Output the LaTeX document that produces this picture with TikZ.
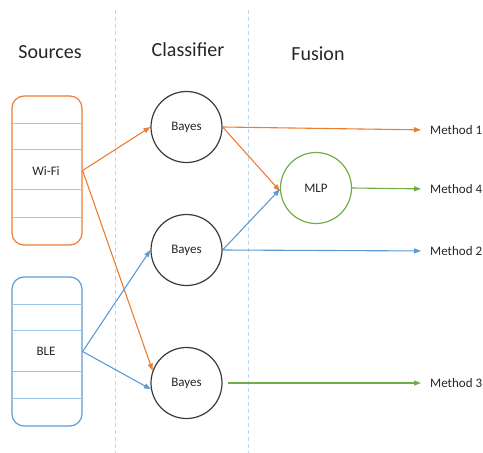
\documentclass[tikz,border=0pt]{standalone}
\usepackage{fontspec}
\setmainfont{Carlito}
\usetikzlibrary{arrows.meta}
\definecolor{corange}{HTML}{ED7D31}
\definecolor{cblue}{HTML}{5B9BD5}
\definecolor{cgreen}{HTML}{70AD47}
\definecolor{cgrid}{HTML}{BDD7EE}
\definecolor{ctext}{HTML}{262626}
\definecolor{cring}{HTML}{3A3A3A}
\tikzset{
  title/.style={font=\fontsize{20}{24}\selectfont, text=ctext},
  label/.style={font=\fontsize{13}{15}\selectfont, text=ctext},
  source/.style={draw, line width=1.2pt, rounded corners=12pt, minimum width=70pt, minimum height=149pt, inner sep=0pt},
  classifier/.style={circle, draw=cring, line width=1.2pt, minimum size=71pt, inner sep=0pt, font=\fontsize{13}{15}\selectfont, text=ctext},
  link/.style={line width=1.1pt, -{Triangle[length=7pt,width=5pt]}},
  divider/.style={cgrid, line width=1pt, dash pattern=on 4pt off 3pt},
}
\begin{document}
\begin{tikzpicture}[x=1pt,y=-1pt]
\useasboundingbox (0,0) rectangle (483,453);

% column dividers
\draw[divider] (115,10) -- (115,453);
\draw[divider] (248,10) -- (248,453);

% column titles
\node[title] (tsrc) at (50,52) {Sources};
\node[title] (tcls) at (188,50) {Classifier};
\node[title] (tfus) at (318,54) {Fusion};

% source stacks
\node[source, draw=corange] (wifi) at (47,170.5) {};
\foreach \y in {123,149,189,217} \draw[corange!60, line width=0.9pt] (12,\y) -- (82,\y);
\node[label] at (46,171) {Wi-Fi};

\node[source, draw=cblue] (ble) at (47,351.5) {};
\foreach \y in {304,330,371,398} \draw[cblue!60, line width=0.9pt] (12,\y) -- (82,\y);
\node[label] at (46,351) {BLE};

% classifiers and fusion
\node[classifier] (b1) at (186.5,127) {Bayes};
\node[classifier] (b2) at (186.5,250) {Bayes};
\node[classifier] (b3) at (186.5,383) {Bayes};
\node[classifier, draw=cgreen] (mlp) at (316,188) {MLP};

% outputs
\node[label, anchor=west, inner sep=0pt] (m1) at (430,130) {Method 1};
\node[label, anchor=west, inner sep=0pt] (m4) at (430,189) {Method 4};
\node[label, anchor=west, inner sep=0pt] (m2) at (430,251) {Method 2};
\node[label, anchor=west, inner sep=0pt] (m3) at (430,383) {Method 3};

% connectors
\draw[link, corange] (wifi.east) -- (b1.west);
\draw[link, corange] (wifi.east) -- (b3.160);
\draw[link, cblue] (ble.east) -- (b2.west);
\draw[link, cblue] (ble.east) -- (b3.190);
\draw[link, corange, shorten >=9pt] (b1.east) -- (m1.west);
\draw[link, corange] (b1.east) -- (mlp.185);
\draw[link, cblue] (b2.east) -- (mlp.182);
\draw[link, cblue, shorten >=9pt] (b2.east) -- (m2.west);
\draw[link, cgreen, shorten >=9pt] (mlp.east) -- (m4.west);
\draw[link, cgreen, shorten <=5pt, shorten >=9pt] (b3.east) -- (m3.west);
\end{tikzpicture}
\end{document}
